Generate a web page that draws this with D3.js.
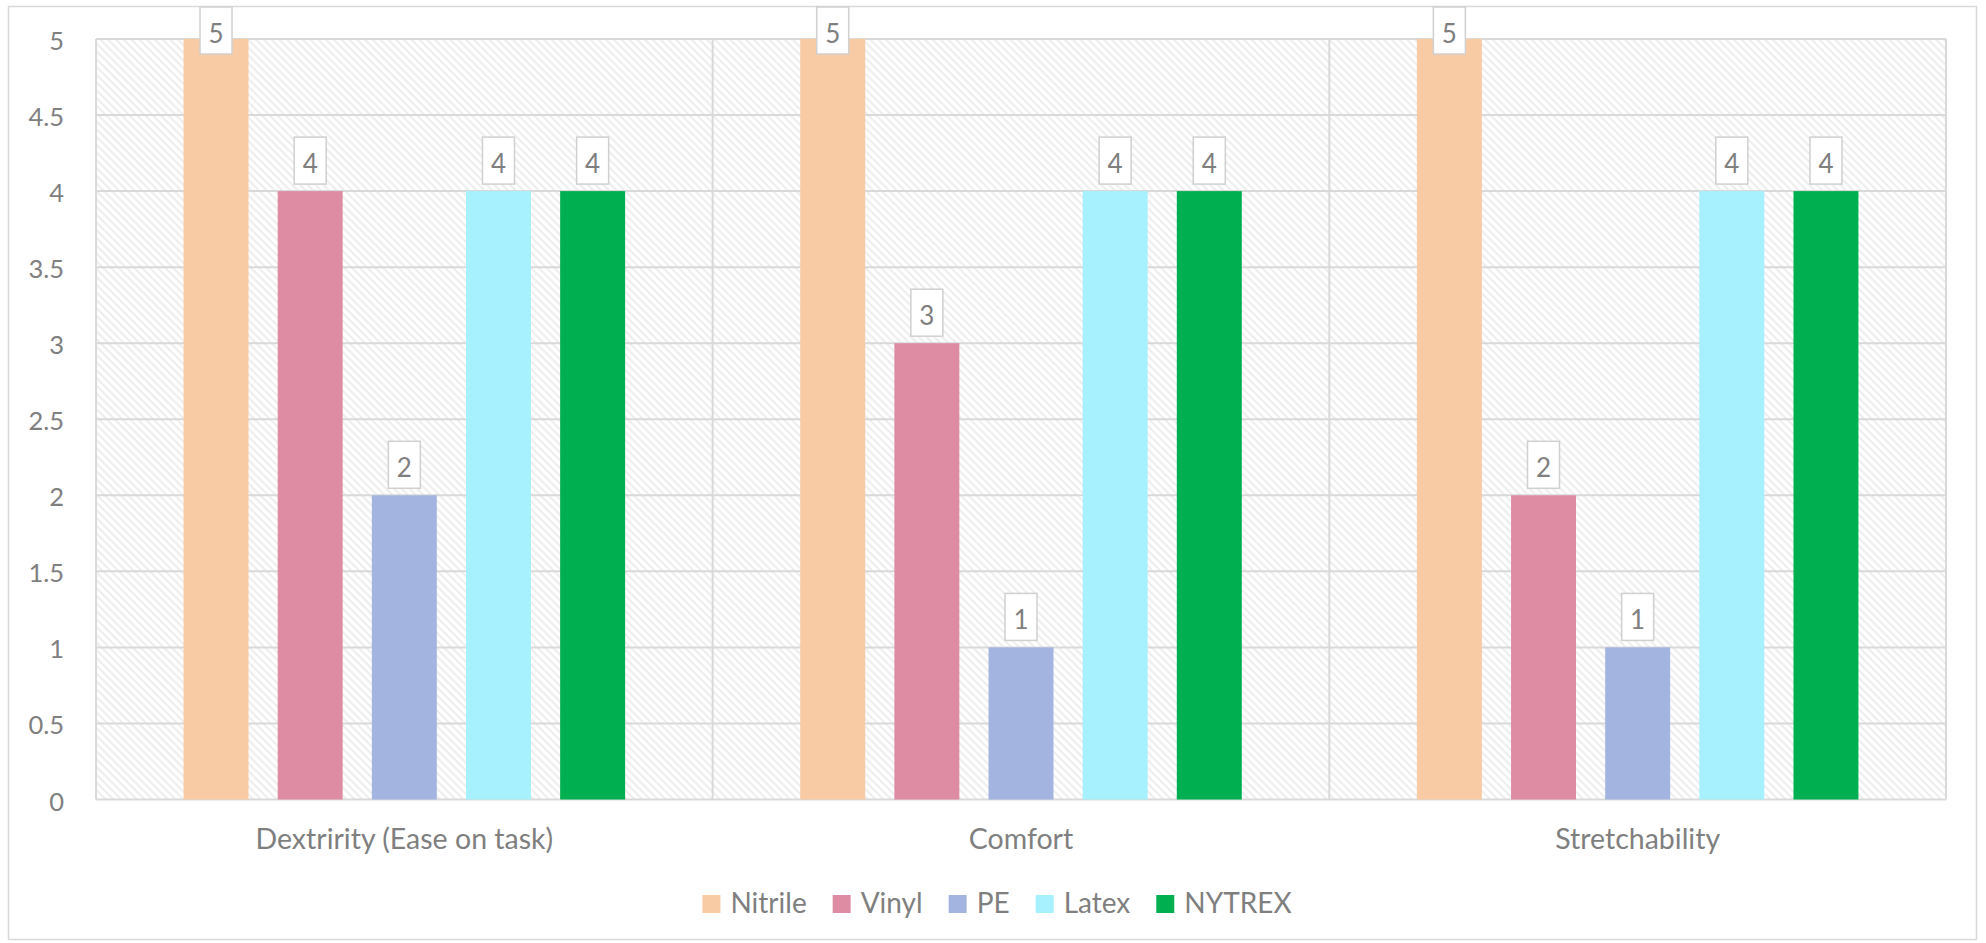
<!DOCTYPE html>
<html>
<head>
<meta charset="utf-8">
<script src="https://cdn.jsdelivr.net/npm/d3@7"></script>
<style>
  html, body { margin: 0; padding: 0; background: #fff; }
  svg { display: block; font-family: Lato, "Noto Sans", sans-serif; }
</style>
</head>
<body>
<svg id="chart" width="1986" height="943"></svg>
<script>
const categories = ["Dextririty (Ease on task)", "Comfort", "Stretchability"];
const seriesNames = ["Nitrile", "Vinyl", "PE", "Latex", "NYTREX"];
const seriesColors = ["#F8CBA5", "#DE8CA3", "#A2B4DF", "#A6F1FD", "#00B050"];
const nitrile = [5, 5, 5];
const vinyl = [4, 3, 2];
const pe = [2, 1, 1];
const latex = [4, 4, 4];
const nytrex = [4, 4, 4];
const yTicks = [0, 0.5, 1, 1.5, 2, 2.5, 3, 3.5, 4, 4.5, 5];
const yTickLabels = ["0", "0.5", "1", "1.5", "2", "2.5", "3", "3.5", "4", "4.5", "5"];

const seriesValues = [nitrile, vinyl, pe, latex, nytrex];

const plot = { left: 96, top: 39, right: 1946, bottom: 799.5 };
const svg = d3.select("#chart");
const textColor = "#7f7f7f";
const gridColor = "#d9d9d9";
const FONT = "Lato, sans-serif";

// outer chart border
svg.append("rect").attr("x", 8.5).attr("y", 6.5).attr("width", 1968).attr("height", 933)
  .attr("fill", "#fff").attr("stroke", gridColor).attr("stroke-width", 1.5);

// hatch pattern (light diagonal "\" lines)
const defs = svg.append("defs");
const pat = defs.append("pattern").attr("id", "hatch").attr("patternUnits", "userSpaceOnUse")
  .attr("width", 5.5).attr("height", 5.5).attr("patternTransform", "rotate(45)");
pat.append("rect").attr("width", 5.5).attr("height", 5.5).attr("fill", "#ffffff");
pat.append("rect").attr("x", 0).attr("y", 0).attr("width", 5.5).attr("height", 2).attr("fill", "#ededed");

const x0 = d3.scaleBand().domain(categories).range([plot.left, plot.right]).paddingInner(0).paddingOuter(0);
const x1 = d3.scaleBand().domain(seriesNames).range([0, x0.bandwidth()]).paddingInner(0.31).paddingOuter(0.93);
const y = d3.scaleLinear().domain([0, 5]).range([plot.bottom, plot.top]);

// plot background
svg.append("rect").attr("x", plot.left).attr("y", plot.top)
  .attr("width", plot.right - plot.left).attr("height", plot.bottom - plot.top)
  .attr("fill", "url(#hatch)");

// horizontal gridlines
svg.append("g").selectAll("line").data(yTicks).join("line")
  .attr("x1", plot.left).attr("x2", plot.right)
  .attr("y1", d => y(d)).attr("y2", d => y(d))
  .attr("stroke", gridColor).attr("stroke-width", 2);

// vertical gridlines (category boundaries)
const vb = categories.map(c => x0(c)).concat([plot.right]);
svg.append("g").selectAll("line").data(vb).join("line")
  .attr("x1", d => d).attr("x2", d => d)
  .attr("y1", plot.top).attr("y2", plot.bottom)
  .attr("stroke", gridColor).attr("stroke-width", 2);

// y axis labels
const yAxis = d3.axisLeft(y).tickValues(yTicks).tickFormat((d, i) => yTickLabels[i]).tickSize(0).tickPadding(0);
const ya = svg.append("g").attr("transform", `translate(64,0)`).call(yAxis);
ya.select(".domain").remove();
ya.selectAll("text").attr("fill", textColor).attr("font-size", 25.5).attr("font-family", FONT)
  .attr("y", 10.5).attr("dy", null);

// x axis labels
const xAxis = d3.axisBottom(x0).tickSize(0).tickPadding(0);
const xa = svg.append("g").attr("transform", `translate(0,849)`).call(xAxis);
xa.select(".domain").remove();
xa.selectAll("text").attr("fill", textColor).attr("font-size", 28.5).attr("font-family", FONT)
  .attr("y", 0).attr("dy", null);

// bars
const data = [];
categories.forEach((c, ci) => {
  seriesNames.forEach((s, si) => {
    data.push({ cat: c, series: s, value: seriesValues[si][ci], color: seriesColors[si] });
  });
});

svg.append("g").selectAll("rect").data(data).join("rect")
  .attr("x", d => x0(d.cat) + x1(d.series))
  .attr("y", d => y(d.value))
  .attr("width", x1.bandwidth())
  .attr("height", d => y(0) - y(d.value))
  .attr("fill", d => d.color);

// data labels
const boxW = 32, boxH = 47;
const lbl = svg.append("g").selectAll("g").data(data).join("g")
  .attr("transform", d => {
    const cx = x0(d.cat) + x1(d.series) + x1.bandwidth() / 2;
    let top = y(d.value) - 7 - boxH;
    if (top < 7) top = 7;
    return `translate(${cx},${top})`;
  });
lbl.append("rect").attr("x", -boxW / 2).attr("y", 0).attr("width", boxW).attr("height", boxH)
  .attr("fill", "#fff").attr("stroke", "#d0d0d0").attr("stroke-width", 1.5);
lbl.append("text").attr("x", 0).attr("y", 35.5)
  .attr("text-anchor", "middle").attr("fill", textColor).attr("font-size", 26)
  .attr("font-family", FONT)
  .text(d => d.value);

// legend: swatch 18, gap 10, text, gap 27; centred
const legend = svg.append("g");
const items = legend.selectAll("g").data(seriesNames).join("g");
items.append("rect").attr("x", 0).attr("y", -9).attr("width", 18).attr("height", 18)
  .attr("fill", (d, i) => seriesColors[i]);
items.append("text").attr("x", 28).attr("y", 8.5)
  .attr("fill", textColor).attr("font-size", 28).attr("font-family", FONT).text(d => d);
let cx = 0;
items.each(function() {
  const g = d3.select(this);
  const w = g.select("text").node().getComputedTextLength();
  g.attr("transform", `translate(${cx},0)`);
  cx += 28 + w + 26;
});
const totalW = cx - 26;
legend.attr("transform", `translate(${997 - totalW / 2},904)`);
</script>
</body>
</html>
